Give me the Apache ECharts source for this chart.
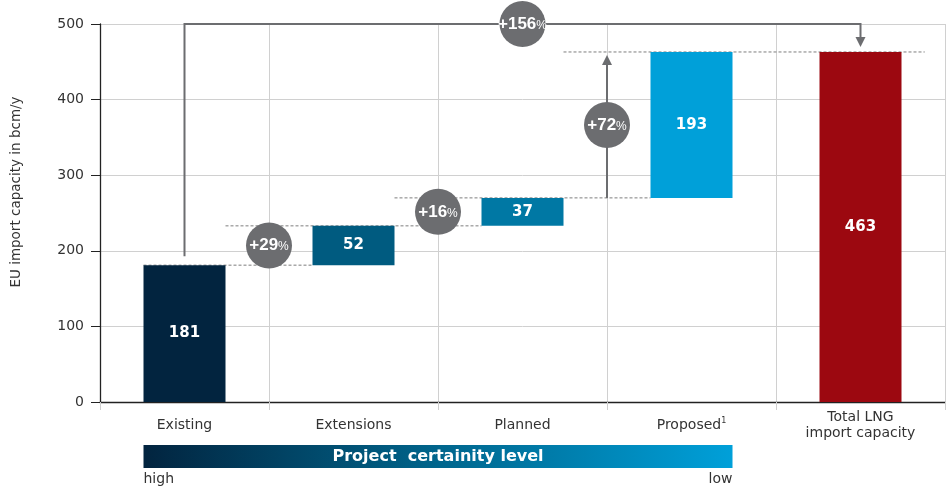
<!DOCTYPE html>
<html>
<head>
<meta charset="utf-8">
<script src="https://cdn.jsdelivr.net/npm/echarts@6.0.0/dist/echarts.min.js"></script>
<style>
html,body{margin:0;padding:0;background:#fff;}
#chart{width:949px;height:489px;}
</style>
</head>
<body>
<div id="chart"></div>
<script>
// ---- data ----
const categories = ['Existing', 'Extensions', 'Planned', 'Proposed', 'Total LNG\nimport capacity'];
const increments = [181, 52, 37, 193];
const totalValue = 463;
const pctLabels = ['+29', '+16', '+72', '+156'];
const yAxisName = 'EU import capacity in bcm/y';
const yMin = 0, yMax = 500, yInterval = 100;
const certaintyTitle = 'Project  certainity level';
const certaintyHigh = 'high';
const certaintyLow = 'low';

// ---- styling ----
const barColors = ['#02243f', '#005b80', '#0078a4', '#00a0d9', '#9c0810'];
const circleColor = '#6c6d70';
const FONT = '"DejaVu Sans", "Noto Sans", sans-serif';
const BAR_W = 82;
const GRID = {left: 100, right: 4, top: 24, bottom: 87};
const plotH = 489 - GRID.top - GRID.bottom;
const catW = (949 - GRID.left - GRID.right) / categories.length;
const hw = (BAR_W / 2) / catW;            // half bar width in category units
const pxV = (yMax - yMin) / plotH;         // value units per pixel
const ARROW = 10;                          // arrow head size in px

// ---- derived waterfall ----
const bases = [], values = [], levels = [];
let cum = 0;
increments.forEach(v => { bases.push(cum); values.push(v); cum += v; levels.push(cum); });
bases.push(0); values.push(totalValue);

const dashedSeries = levels.map((L, k) => {
  const x1 = (k === 0) ? 0.5 - hw : k - 0.5 + hw;
  const x2 = (k === levels.length - 1) ? categories.length - 0.12 : k + 1.5 - hw;
  return {
    type: 'line', xAxisIndex: 1, yAxisIndex: 0, z: 1, silent: true,
    symbol: 'none', clip: false,
    lineStyle: {color: '#7d7d7d', width: 1, type: [3, 2]},
    data: [[x1, L], [x2, L]]
  };
});

const circleData = [];
for (let k = 0; k < 3; k++) {
  circleData.push({value: [k + 1, (levels[k] + levels[k + 1]) / 2], pct: pctLabels[k]});
}
const lastX = categories.length - 0.5;
circleData.push({value: [(0.5 + lastX) / 2, yMax], pct: pctLabels[3]});

// arrow tips
const tipDown = totalValue + 5 * pxV;        // total arrow tip (pointing down)
const tipUp = levels[3] - 3 * pxV;           // +72% arrow tip (pointing up)
const headDownC = tipDown + (ARROW / 2) * pxV;
const headUpC = tipUp - (ARROW / 2) * pxV;

const arrowLines = [
  {coords: [[0.5, levels[0] + 9 * pxV], [0.5, yMax], [lastX, yMax], [lastX, headDownC]]},
  {coords: [[3, levels[2]], [3, headUpC]]}
];

const chart = echarts.init(document.getElementById('chart'), null, {renderer: 'canvas'});

const option = {
  animation: false,
  textStyle: {fontFamily: FONT},
  grid: {left: GRID.left, right: GRID.right, top: GRID.top, bottom: GRID.bottom, containLabel: false},
  xAxis: [
    {
      type: 'category', data: categories,
      axisLine: {show: true, lineStyle: {color: '#222', width: 1.3}},
      axisTick: {show: true, length: 8, lineStyle: {color: '#cfcfcf'}},
      splitLine: {show: true, lineStyle: {color: '#d0d0d0', width: 1}},
      axisLabel: {
        color: '#333', fontSize: 14, fontFamily: FONT, margin: 23, verticalAlign: 'middle',
        lineHeight: 16, interval: 0,
        formatter: function (v) {
          if (v === 'Proposed') return '{a|Proposed}{sup|1}';
          return v;
        },
        rich: {
          a: {fontSize: 14, color: '#333', fontFamily: FONT, lineHeight: 16},
          sup: {fontSize: 8, color: '#333', fontFamily: FONT, lineHeight: 16, verticalAlign: 'top', padding: [0, 0, 6, 0]}
        }
      }
    },
    {
      type: 'value', min: 0, max: categories.length, show: false,
      splitLine: {show: false}, axisLine: {show: false}, axisTick: {show: false}, axisLabel: {show: false}
    }
  ],
  yAxis: {
    type: 'value', min: yMin, max: yMax, interval: yInterval,
    name: yAxisName, nameLocation: 'middle', nameGap: 77,
    nameTextStyle: {color: '#333', fontSize: 13.5, fontFamily: FONT, padding: [0, 0, 0, 42]},
    axisLine: {show: true, lineStyle: {color: '#222', width: 1.3}},
    axisTick: {show: true, length: 9, lineStyle: {color: '#222'}},
    axisLabel: {color: '#333', fontSize: 14, fontFamily: FONT, margin: 16},
    splitLine: {show: true, lineStyle: {color: '#d0d0d0', width: 1}}
  },
  series: [
    ...dashedSeries,
    {
      type: 'bar', stack: 'w', barWidth: BAR_W, z: 2, silent: true,
      itemStyle: {color: 'transparent'},
      data: bases
    },
    {
      type: 'bar', stack: 'w', barWidth: BAR_W, z: 2,
      data: values.map((v, i) => ({value: v, itemStyle: {color: barColors[i]}})),
      label: {show: true, position: 'inside', color: '#fff', fontSize: 15, fontWeight: 'bold', fontFamily: FONT}
    },
    {
      type: 'lines', coordinateSystem: 'cartesian2d', xAxisIndex: 1, yAxisIndex: 0,
      polyline: true, z: 3, clip: false, silent: true,
      symbol: 'none',
      lineStyle: {color: circleColor, width: 2, opacity: 1, curveness: 0},
      data: arrowLines
    },
    {
      type: 'scatter', xAxisIndex: 1, yAxisIndex: 0, z: 3, clip: false, silent: true,
      symbolSize: [ARROW, ARROW],
      itemStyle: {color: circleColor, opacity: 1},
      data: [
        {value: [lastX, headDownC], symbol: 'path://M0,0 L10,0 L5,10 Z'},
        {value: [3, headUpC], symbol: 'path://M5,0 L10,10 L0,10 Z'}
      ]
    },
    {
      type: 'scatter', xAxisIndex: 1, yAxisIndex: 0, z: 5, clip: false,
      symbol: 'circle', symbolSize: 46,
      itemStyle: {color: circleColor, opacity: 1},
      data: circleData,
      label: {
        show: true, position: 'inside',
        formatter: p => '{n|' + p.data.pct + '}{p|%}',
        rich: {
          n: {color: '#fff', fontSize: 17, fontWeight: 'bold', fontFamily: '"Liberation Sans", Arial, sans-serif'},
          p: {color: '#fff', fontSize: 12, fontFamily: '"Liberation Sans", Arial, sans-serif', padding: [3, 0, 0, 0]}
        }
      }
    }
  ]
};
chart.setOption(option);

// certainty gradient bar placed under the step bars
const xL = chart.convertToPixel({xAxisIndex: 1}, 0.5 - hw);
const xR = chart.convertToPixel({xAxisIndex: 1}, 3.5 + hw);
const y0 = chart.convertToPixel({yAxisIndex: 0}, yMin);
const barTop = y0 + 43, barH = 23;
chart.setOption({
  graphic: [
    {
      type: 'rect', silent: true, z: 10,
      shape: {x: xL, y: barTop, width: xR - xL, height: barH},
      style: {
        fill: new echarts.graphic.LinearGradient(0, 0, 1, 0, [
          {offset: 0, color: barColors[0]},
          {offset: 0.5, color: '#00658c'},
          {offset: 1, color: barColors[3]}
        ])
      }
    },
    {
      type: 'text', silent: true, z: 11,
      x: (xL + xR) / 2, y: barTop + barH / 2,
      style: {text: certaintyTitle, fill: '#fff', font: 'bold 16px ' + FONT, align: 'center', verticalAlign: 'middle'}
    },
    {
      type: 'text', silent: true, z: 11,
      x: xL, y: barTop + barH + 11,
      style: {text: certaintyHigh, fill: '#333', font: '14px ' + FONT, align: 'left', verticalAlign: 'middle'}
    },
    {
      type: 'text', silent: true, z: 11,
      x: xR, y: barTop + barH + 11,
      style: {text: certaintyLow, fill: '#333', font: '14px ' + FONT, align: 'right', verticalAlign: 'middle'}
    }
  ]
});
</script>
</body>
</html>
